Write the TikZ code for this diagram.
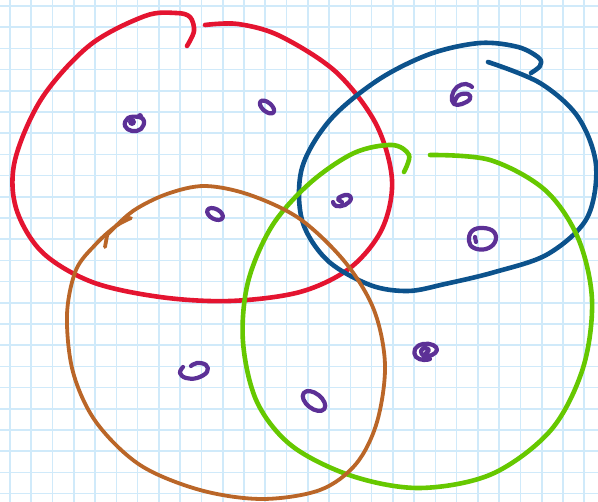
\documentclass[tikz,border=0pt]{standalone}
\begin{document}
\begin{tikzpicture}[x=1pt,y=-1pt,line cap=round,line join=round,
  gridline/.style={draw=gridblue,line width=1.6pt},
  loopred/.style={draw=penred,line width=4.6pt},
  loopblue/.style={draw=penblue,line width=4.6pt},
  loopgreen/.style={draw=pengreen,line width=4.6pt},
  loopbrown/.style={draw=penbrown,line width=3.8pt},
  doodle/.style={draw=penpurple,line width=4.2pt}]
\definecolor{gridblue}{RGB}{208,234,250}
\definecolor{penred}{RGB}{228,20,48}
\definecolor{penblue}{RGB}{12,82,140}
\definecolor{pengreen}{RGB}{102,200,0}
\definecolor{penbrown}{RGB}{186,102,40}
\definecolor{penpurple}{RGB}{92,48,150}
\useasboundingbox (0,0) rectangle (598,502);
\fill[white] (0,0) rectangle (598,502);
% grid
\foreach \k in {0,...,27} \draw[gridline] (10+21.27*\k,0) -- (10+21.27*\k,502);
\foreach \k in {0,...,23} \draw[gridline] (0,6+21.2*\k) -- (598,6+21.2*\k);
% red loop
\draw[loopred] plot[smooth,tension=0.55] coordinates {(187,46) (194,31) (190,17) (176,13) (145,16) (90,45) (42,98) (15,160) (16,208) (42,252) (92,282) (160,297) (230,301) (300,292) (350,268) (382,229) (392,180) (376,124) (336,72) (280,36) (238,24) (205,25)};
% blue loop
\draw[loopblue] plot[smooth,tension=0.55] coordinates {(488,62) (540,83) (578,117) (596,165) (587,218) (548,254) (495,272) (445,284) (408,291) (370,285) (327,260) (302,220) (302,168) (330,120) (378,80) (430,54) (480,43) (518,47) (539,58) (540,66) (531,73)};
% green loop
\draw[loopgreen] plot[smooth,tension=0.55] coordinates {(430,155) (490,160) (545,190) (578,238) (592,300) (583,368) (551,430) (492,474) (420,488) (352,476) (292,446) (257,402) (243,342) (248,282) (272,226) (310,183) (354,153) (392,145) (409,155) (404,172)};
% brown loop
\draw[loopbrown] plot[smooth,tension=0.55] coordinates {(107,235) (133,211) (167,194) (205,186) (250,195) (300,219) (345,262) (374,310) (385,365) (377,422) (356,464) (320,490) (262,499) (200,490) (140,465) (96,422) (73,372) (67,315) (76,270) (96,244) (116,226) (131,218)};
\draw[loopbrown] (105,247) -- (107,236);
% purple marks
\draw[doodle] plot[smooth cycle,tension=0.7] coordinates {(128,118) (125,126) (132,131) (141,129) (144,121) (139,117)};
\fill[penpurple] (132,122) circle (4pt);
\fill[penpurple] (140,116) circle (3pt);
\draw[doodle] (267,107) ellipse[x radius=8.5,y radius=4.5,rotate=-40];
\draw[doodle] (215,214) ellipse[x radius=8.5,y radius=5,rotate=-28];
\draw[doodle] plot[smooth,tension=0.7] coordinates {(342,202) (338,199) (342,196) (348,195) (351,199) (345,205) (336,206) (333,202)};
\draw[doodle] plot[smooth,tension=0.7] coordinates {(472,87) (466,84) (457,87) (452,96) (454,104) (462,104) (470,99) (468,94) (459,95) (455,101)};
\draw[doodle] plot[smooth cycle,tension=0.7] coordinates {(472,231) (483,228) (494,232) (495,242) (486,249) (474,248) (469,241)};
\draw[doodle] (475,237) -- (476,242);
\draw[doodle] plot[smooth,tension=0.7] coordinates {(183,367) (180,373) (186,378) (197,378) (207,372) (206,365) (197,363) (191,366)};
\draw[doodle] (314,401) ellipse[x radius=13,y radius=7.5,rotate=-38];
\draw[doodle] plot[smooth,tension=0.7] coordinates {(426,353) (429,350) (425,348) (421,351) (424,356) (432,355) (437,350) (433,345) (423,344) (415,349) (416,357) (424,360) (430,359)};
\end{tikzpicture}
\end{document}
